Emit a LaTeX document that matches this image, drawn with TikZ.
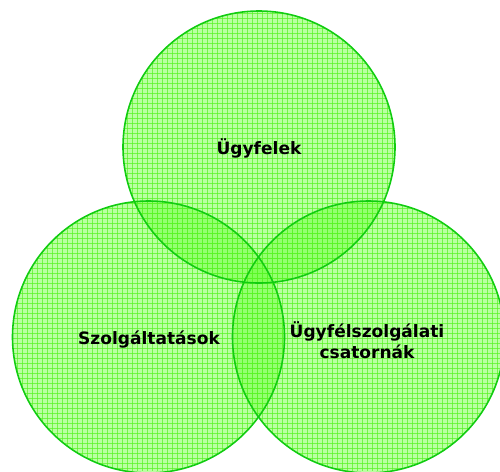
\documentclass[tikz,border=0pt]{standalone}
\usepackage{fontspec}
\setmainfont{DejaVu Sans}
\definecolor{vennfill}{HTML}{66FF33}
\definecolor{venngrid}{HTML}{55F522}
\definecolor{vennline}{HTML}{11CC11}
\tikzset{
  vennlabel/.style={font=\fontsize{9.7}{12}\selectfont\bfseries, text=black, align=center, inner sep=0pt},
}
\newcommand{\venncircle}[2]{%
  \begin{scope}
    \clip #1 circle (#2);
    \fill[vennfill, fill opacity=0.45] #1 circle (#2);
    \begin{scope}[venngrid, line width=0.55pt, opacity=0.7]
      \foreach \gx in {2,7,...,502} \draw (\gx,0) -- (\gx,471);
      \foreach \gy in {3,8,...,473} \draw (0,\gy) -- (500,\gy);
    \end{scope}
  \end{scope}}
\begin{document}
\begin{tikzpicture}[x=0.02cm, y=-0.02cm]
  \useasboundingbox (0,0) rectangle (500,471);
  % circle centres and radius
  \coordinate (top) at (259,147);
  \coordinate (left) at (148.5,337);
  \coordinate (right) at (368.5,337);
  \def\r{136}
  % hatched fills
  \venncircle{(top)}{\r}
  \venncircle{(left)}{\r}
  \venncircle{(right)}{\r}
  % outlines
  \foreach \c in {top,left,right}
    \draw[vennline, line width=0.9pt] (\c) circle (\r);
  % labels
  \node[vennlabel] (ugyfelek) at (259,148) {Ügyfelek};
  \node[vennlabel] (szolg) at (149,340) {Szolgáltatások};
  \node[vennlabel] (csat) at (367,340) {Ügyfélszolgálati\\csatornák};
\end{tikzpicture}
\end{document}
